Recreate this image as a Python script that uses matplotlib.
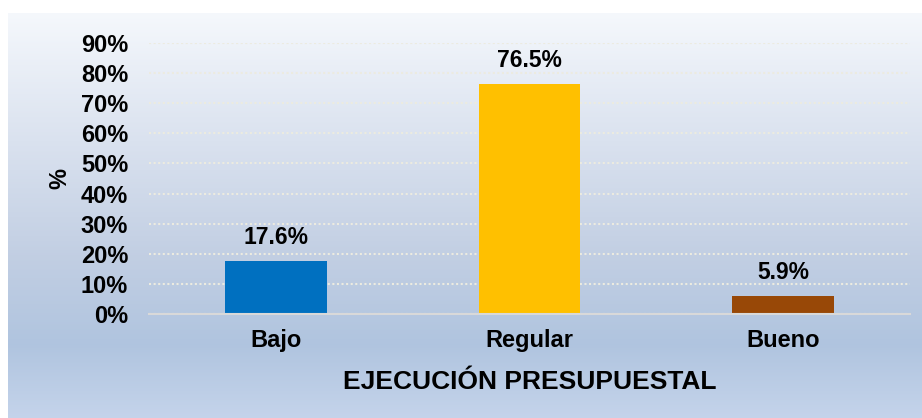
import matplotlib
matplotlib.use("Agg")
import matplotlib.pyplot as plt
import numpy as np
from matplotlib.colors import LinearSegmentedColormap

categories = ["Bajo", "Regular", "Bueno"]
values = [17.6, 76.5, 5.9]
labels = ["17.6%", "76.5%", "5.9%"]
colors = ["#0070C0", "#FFC000", "#984807"]
yticks = [0, 10, 20, 30, 40, 50, 60, 70, 80, 90]
ytick_labels = [f"{t}%" for t in yticks]

W, H = 922, 418
fig = plt.figure(figsize=(W / 100, H / 100), dpi=100)
fig.patch.set_facecolor("white")

plt.rcParams['font.family'] = ['Liberation Sans', 'DejaVu Sans']

# gradient background panel
bg = fig.add_axes([8 / W, 0, (W - 8) / W, (H - 13) / H])
cmap = LinearSegmentedColormap.from_list(
    "bg",
    [(0.0, (0.96, 0.972, 0.988)),
     (0.3, (0.86, 0.89, 0.94)),
     (0.6, (0.76, 0.81, 0.89)),
     (0.82, (0.69, 0.77, 0.875)),
     (1.0, (0.77, 0.83, 0.92))])
grad = np.linspace(0, 1, 256).reshape(-1, 1)
bg.imshow(grad, aspect="auto", cmap=cmap, extent=[0, 1, 1, 0])
bg.set_axis_off()

ax = fig.add_axes([149 / W, (H - 314) / H, (910 - 149) / W, (314 - 43) / H])
ax.patch.set_alpha(0)
x = np.arange(len(categories))
ax.bar(x, values, width=0.40, color=colors, zorder=3)
ax.set_xlim(-0.5, 2.5)
ax.set_ylim(0, 90)
ax.set_yticks(yticks)
ax.set_yticklabels(ytick_labels)
ax.set_xticks(x)
ax.set_xticklabels(categories)
for s in ["top", "right", "left"]:
    ax.spines[s].set_visible(False)
ax.spines["bottom"].set_color("#d9d9d9")
ax.spines["bottom"].set_linewidth(1.5)
ax.spines["bottom"].set_zorder(4)
ax.tick_params(axis="both", length=0, labelsize=17)
ax.tick_params(axis="y", pad=15)
ax.tick_params(axis="x", pad=11)
for lab in ax.get_xticklabels() + ax.get_yticklabels():
    lab.set_fontweight("bold")
ax.yaxis.grid(True, color="#ecebe0", linestyle=(0, (1, 1.2)), linewidth=1.5, zorder=1)
ax.set_axisbelow(True)

for xi, v, l in zip(x, values, labels):
    ax.annotate(l, (xi, v), xytext=(0, 17), textcoords="offset points",
                ha="center", va="center", fontsize=16.5, fontweight="bold")

ax.set_ylabel("%", fontsize=17, fontweight="bold")
ax.yaxis.set_label_coords(-0.102, 0.5)
ax.set_xlabel("EJECUCIÓN PRESUPUESTAL", fontsize=19, fontweight="bold", labelpad=13)

fig.savefig("out.png", dpi=100)
